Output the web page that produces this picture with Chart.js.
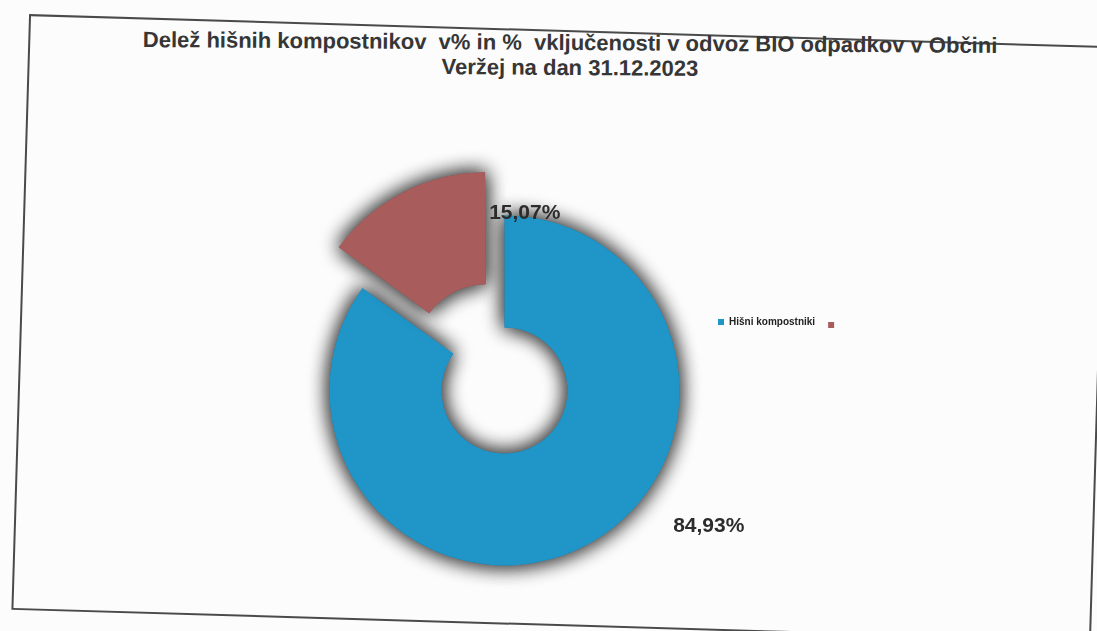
<!DOCTYPE html>
<html>
<head>
<meta charset="utf-8">
<script src="https://cdn.jsdelivr.net/npm/chart.js@4"></script>
<style>
  body { margin: 0; background: #fcfcfc; }
  #page { position: relative; width: 1097px; height: 631px; overflow: hidden; }
  #frame {
    position: absolute; left: 20px; top: 30px; width: 1080px; height: 596px;
    border: 2px solid #4a4a4a; box-sizing: border-box;
    transform: rotate(1.7deg);
  }
  #title {
    position: absolute; left: 0; top: 30px; width: 1140px;
    text-align: center; white-space: pre;
    font: bold 22px "Liberation Sans", Arial, sans-serif; line-height: 25px;
    color: #363636; transform: rotate(0.4deg);
  }
  canvas { position: absolute; left: 0; top: 0; }
</style>
</head>
<body>
<div id="page">
  <div id="frame"></div>
  <div id="title">Delež hišnih kompostnikov  v% in %  vključenosti v odvoz BIO odpadkov v Občini
Veržej na dan 31.12.2023</div>
  <canvas id="chart" width="1097" height="631"></canvas>
</div>
<script>
// data
const labels = ["Hišni kompostniki", ""];
const values = [84.93, 15.07];
const colors = ["#1f95c8", "#a95c5c"];

const fmt = (v) => v.toFixed(2).replace(".", ",") + "%";

// grey glow round the rings (arcs drawn once more so the shadow gets darker)
const glow = {
  id: "glow",
  beforeDatasetsDraw(chart) {
    const ctx = chart.ctx;
    ctx.save();
    ctx.shadowColor = "rgba(70, 70, 70, 1)";
    ctx.shadowBlur = 20;
    chart.getDatasetMeta(0).data.forEach((arc) => arc.draw(ctx));
  },
  afterDatasetsDraw(chart) {
    chart.ctx.restore();
  },
};

// percent labels next to the slices
const valueLabels = {
  id: "valueLabels",
  afterDraw(chart, args, opts) {
    const ctx = chart.ctx;
    const meta = chart.getDatasetMeta(0);
    ctx.save();
    ctx.font = "bold 21px 'Liberation Sans', Arial, sans-serif";
    ctx.fillStyle = "#2c2c2c";
    ctx.textAlign = "center";
    ctx.textBaseline = "middle";
    meta.data.forEach((arc, i) => {
      const p = arc.getProps(["x", "y", "startAngle", "endAngle", "outerRadius"], true);
      const place = opts.placements[i];
      const a = p.startAngle + (p.endAngle - p.startAngle) * place.along;
      const r = p.outerRadius * place.dist;
      ctx.fillText(fmt(values[i]), p.x + Math.cos(a) * r, p.y + Math.sin(a) * r);
    });
    ctx.restore();
  },
};

// small legend in one row on the right
const rowLegend = {
  id: "rowLegend",
  afterDraw(chart, args, opts) {
    const ctx = chart.ctx;
    const ds = chart.data.datasets[0];
    let x = chart.chartArea.right + opts.offsetX;
    const y = opts.y;
    ctx.save();
    ctx.font = "bold 10px 'Liberation Sans', Arial, sans-serif";
    ctx.textBaseline = "middle";
    chart.data.labels.forEach((lbl, i) => {
      ctx.fillStyle = ds.backgroundColor[i];
      ctx.fillRect(x, y - 3 + i * 3, 6, 6);
      x += 11;
      ctx.fillStyle = "#222";
      ctx.fillText(lbl, x, y);
      x += ctx.measureText(lbl).width + 13;
    });
    ctx.restore();
  },
};

new Chart(document.getElementById("chart"), {
  type: "doughnut",
  data: {
    labels: labels,
    datasets: [
      {
        data: values,
        backgroundColor: colors,
        borderWidth: 0,
        // chart.js moves an arc by offset / 4
        offset: [0, 160],
        hoverOffset: 0,
      },
    ],
  },
  options: {
    responsive: false,
    animation: false,
    radius: 175,
    cutout: "36%",
    layout: { padding: { top: 194, bottom: 44, left: 308, right: 396 } },
    plugins: {
      legend: { display: false },
      tooltip: { enabled: false },
      valueLabels: {
        placements: [
          { along: 0.404, dist: 1.4 },
          { along: 1.12, dist: 1.02 },
        ],
      },
      rowLegend: { offsetX: 17, y: 322 },
    },
  },
  plugins: [glow, valueLabels, rowLegend],
});
</script>
</body>
</html>
